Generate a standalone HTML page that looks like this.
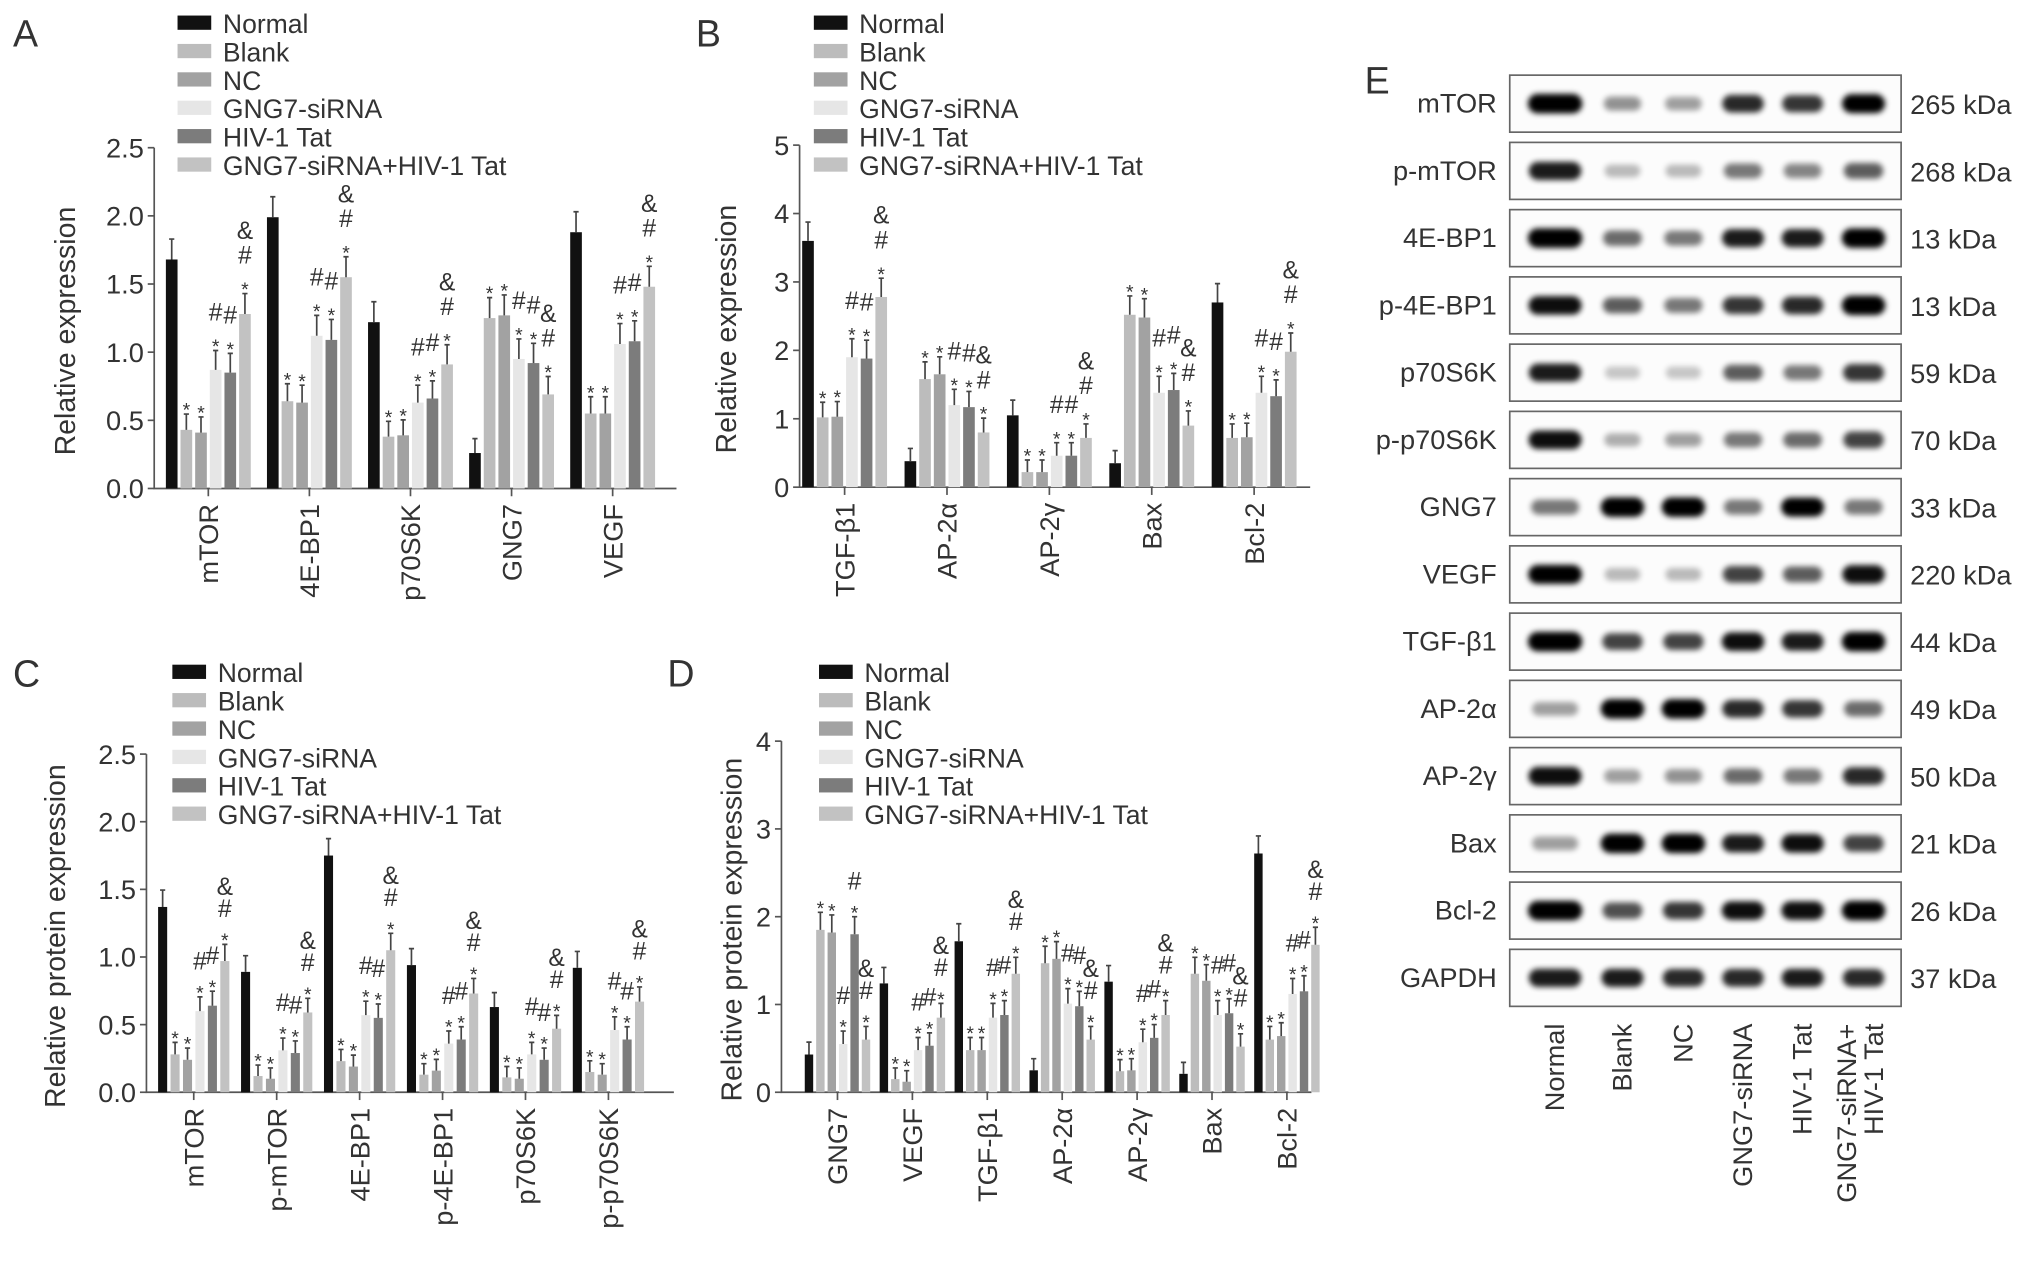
<!DOCTYPE html>
<html><head><meta charset="utf-8"><style>
html,body{margin:0;padding:0;background:#fff;}
svg{display:block;}
text{font-family:"Liberation Sans",Arial,sans-serif;fill:#333;}
</style></head><body>
<svg id="fig" width="2032" height="1262" viewBox="0 0 1568 974" preserveAspectRatio="none" xmlns="http://www.w3.org/2000/svg">
<defs><filter id="blur" x="-30%" y="-80%" width="160%" height="260%"><feGaussianBlur stdDeviation="2.2"/></filter></defs>
</svg>
<script>
const seriesNames = ["Normal","Blank","NC","GNG7-siRNA","HIV-1 Tat","GNG7-siRNA+HIV-1 Tat"];
const seriesColors = ["#111111","#bcbcbc","#a2a2a2","#e6e6e6","#7c7c7c","#c2c2c2"];

const catsA = ["mTOR","4E-BP1","p70S6K","GNG7","VEGF"];
const normalA = [1.68,1.99,1.22,0.26,1.88];
const blankA = [0.43,0.64,0.38,1.25,0.55];
const ncA = [0.41,0.63,0.39,1.27,0.55];
const sirnaA = [0.87,1.12,0.63,0.95,1.06];
const tatA = [0.85,1.09,0.66,0.92,1.08];
const comboA = [1.28,1.55,0.91,0.69,1.48];
const ticksA = ["0.0","0.5","1.0","1.5","2.0","2.5"];

const catsB = ["TGF-β1","AP-2α","AP-2γ","Bax","Bcl-2"];
const normalB = [3.6,0.38,1.05,0.35,2.7];
const blankB = [1.02,1.58,0.22,2.52,0.72];
const ncB = [1.03,1.65,0.22,2.48,0.73];
const sirnaB = [1.9,1.2,0.46,1.38,1.38];
const tatB = [1.88,1.17,0.46,1.42,1.33];
const comboB = [2.78,0.8,0.72,0.9,1.98];
const ticksB = ["0","1","2","3","4","5"];

const catsC = ["mTOR","p-mTOR","4E-BP1","p-4E-BP1","p70S6K","p-p70S6K"];
const normalC = [1.37,0.89,1.75,0.94,0.63,0.92];
const blankC = [0.28,0.12,0.23,0.13,0.11,0.15];
const ncC = [0.24,0.10,0.19,0.16,0.10,0.13];
const sirnaC = [0.60,0.31,0.57,0.36,0.28,0.46];
const tatC = [0.64,0.29,0.55,0.39,0.24,0.39];
const comboC = [0.97,0.59,1.05,0.73,0.47,0.67];
const ticksC = ["0.0","0.5","1.0","1.5","2.0","2.5"];

const catsD = ["GNG7","VEGF","TGF-β1","AP-2α","AP-2γ","Bax","Bcl-2"];
const normalD = [0.43,1.24,1.72,0.25,1.26,0.21,2.72];
const blankD = [1.85,0.15,0.48,1.47,0.24,1.35,0.60];
const ncD = [1.82,0.12,0.48,1.52,0.25,1.27,0.64];
const sirnaD = [0.55,0.48,0.85,1.01,0.57,0.88,1.12];
const tatD = [1.80,0.53,0.88,0.98,0.62,0.90,1.15];
const comboD = [0.60,0.85,1.35,0.60,0.88,0.52,1.68];
const ticksD = ["0","1","2","3","4"];

const blotRows = ["mTOR","p-mTOR","4E-BP1","p-4E-BP1","p70S6K","p-p70S6K","GNG7","VEGF","TGF-β1","AP-2α","AP-2γ","Bax","Bcl-2","GAPDH"];
const blotKda = ["265 kDa","268 kDa","13 kDa","13 kDa","59 kDa","70 kDa","33 kDa","220 kDa","44 kDa","49 kDa","50 kDa","21 kDa","26 kDa","37 kDa"];
const blotIntensity = [
 [1,.4,.35,.8,.75,.95],[.85,.25,.25,.5,.45,.6],[1,.55,.5,.85,.85,1],[.9,.6,.5,.75,.8,1],
 [.85,.2,.2,.6,.5,.75],[.9,.3,.35,.5,.55,.7],[.5,1,1,.5,.95,.5],[.95,.25,.25,.7,.6,.9],
 [1,.7,.7,.9,.85,1],[.35,1,1,.8,.75,.55],[.9,.35,.4,.55,.5,.8],[.35,1,1,.85,.9,.7],
 [1,.65,.75,.9,.9,1],[.85,.85,.8,.8,.85,.8]];
const laneLabels = [["Normal"],["Blank"],["NC"],["GNG7-siRNA"],["HIV-1 Tat"],["GNG7-siRNA+","HIV-1 Tat"]];

const NS="http://www.w3.org/2000/svg";
const svg=document.getElementById('fig');
function mk(tag,attrs,parent,txt){const e=document.createElementNS(NS,tag);for(const k in attrs)e.setAttribute(k,attrs[k]);if(txt!==undefined)e.textContent=txt;(parent||svg).appendChild(e);return e;}

function marksFor(s){ if(s===1||s===2) return ["*"]; if(s===3||s===4) return ["#","*"]; if(s===5) return ["&","#","*"]; return []; }

function panel(cfg){
  const g=mk('g',{});
  
  
  const series=cfg.series, n=cfg.cats.length;
  const y=v=>cfg.y0-(v/cfg.max)*(cfg.y0-cfg.yTop);
  const gx=i=>cfg.x0+cfg.off+i*cfg.gap;
  const L=mk('text',{x:cfg.letterX,y:cfg.letterY,'font-size':29,fill:'#222'},g,cfg.letter);
  
  
  seriesNames.forEach((nm,i)=>{
    const ly=cfg.legY+i*21.9;
    const r=mk('rect',{x:cfg.legX,y:ly-6,width:26,height:11,fill:seriesColors[i]},g);
    
    
    const t=mk('text',{x:cfg.legX+35,y:ly+7.5,'font-size':20.5},g,nm);
    
    
  });
  const ax=mk('path',{d:`M${cfg.x0},${cfg.yTop} V${cfg.y0} H${cfg.xEnd}`,stroke:'#555','stroke-width':1.3,fill:'none'},g);
  
  
  cfg.ticks.forEach((t,i)=>{
    const v=cfg.max*i/(cfg.ticks.length-1);
    mk('line',{x1:cfg.x0-5,x2:cfg.x0,y1:y(v),y2:y(v),stroke:'#555','stroke-width':1.3},g);
    const tl=mk('text',{x:cfg.x0-8,y:y(v)+7.5,'font-size':21,'text-anchor':'end'},g,t);
    
    
  });
  const yl=mk('text',{x:0,y:0,'font-size':22,'text-anchor':'middle',transform:`translate(${cfg.ylabX},${(cfg.y0+cfg.yTop)/2+10}) rotate(-90)`},g,cfg.ylabel);
  
  
  for(let i=0;i<n;i++){
    const tc=gx(i)+cfg.pitch*2.5+cfg.bw/2;
    mk('line',{x1:tc,x2:tc,y1:cfg.y0,y2:cfg.y0+6,stroke:'#555','stroke-width':1.3},g);
    const xl=mk('text',{x:0,y:0,'font-size':21,'text-anchor':'end',transform:`translate(${tc+7.5},${cfg.y0+12}) rotate(-90)`},g,cfg.cats[i]);
    
    
    for(let s=0;s<6;s++){
      const v=series[s][i], bx=gx(i)+s*cfg.pitch, top=y(v);
      const b=mk('rect',{x:bx,y:top,width:cfg.bw,height:cfg.y0-top,fill:seriesColors[s]},g);
      
      
      const err=(cfg.y0-cfg.yTop)*cfg.errFrac*(0.6+0.4*Math.min(1,v/cfg.max*2.5));
      const ex=bx+cfg.bw/2, ey=top-err;
      mk('path',{d:`M${ex},${top} V${ey} M${ex-2},${ey} H${ex+2}`,stroke:'#444','stroke-width':1.3,fill:'none'},g);
      const mks=marksFor(s);
      mks.forEach((m,k)=>{
        const ty=ey-4-(mks.length-1-k)*cfg.markGap;
        const mt=mk('text',{x:ex,y:ty+(m==='*'?6:0),'font-size':m==='*'?15:19,'text-anchor':'middle',fill:'#444'},g,m);
        
        
      });
    }
  }
}

panel({name:'panel-a',letter:'A',letterX:10,letterY:36,legX:137,legY:18,cats:catsA,series:[normalA,blankA,ncA,sirnaA,tatA,comboA],ticks:ticksA,max:2.5,
  x0:119,xEnd:522,y0:377,yTop:114,off:9,gap:78,pitch:11.3,bw:9,ylabel:'Relative expression',ylabX:58,errFrac:0.06,markGap:19});
panel({name:'panel-b',letter:'B',letterX:537,letterY:36,legX:628,legY:18,cats:catsB,series:[normalB,blankB,ncB,sirnaB,tatB,comboB],ticks:ticksB,max:5,
  x0:617,xEnd:1011,y0:376,yTop:112,off:2,gap:79,pitch:11.3,bw:9,ylabel:'Relative expression',ylabX:568,errFrac:0.055,markGap:19});
panel({name:'panel-c',letter:'C',letterX:10,letterY:530,legX:133,legY:519,cats:catsC,series:[normalC,blankC,ncC,sirnaC,tatC,comboC],ticks:ticksC,max:2.5,
  x0:113,xEnd:520,y0:843,yTop:582,off:9,gap:64,pitch:9.6,bw:7,ylabel:'Relative protein expression',ylabX:50,errFrac:0.05,markGap:17});
panel({name:'panel-d',letter:'D',letterX:515,letterY:530,legX:632,legY:519,cats:catsD,series:[normalD,blankD,ncD,sirnaD,tatD,comboD],ticks:ticksD,max:4,
  x0:603,xEnd:1012,y0:843,yTop:572,off:18,gap:57.8,pitch:8.8,bw:6.5,ylabel:'Relative protein expression',ylabX:572,errFrac:0.05,markGap:17});

const gE=mk('g',{});


const eL=mk('text',{x:1053,y:72,'font-size':29,fill:'#222'},gE,'E');


const laneX=[1200,1252,1299,1345,1391,1438];
blotRows.forEach((nm,r)=>{
  const cy=80+r*51.9;
  const box=mk('rect',{x:1165,y:cy-22,width:302,height:44,fill:'#fcfcfc',stroke:'#666','stroke-width':1.3},gE);
  
  
  laneX.forEach((lx,l)=>{
    const it=blotIntensity[r][l];
    const w=(l===0?40:32)*(0.8+0.25*it), h=8+7*it;
    const band=mk('rect',{x:lx-w/2,y:cy-h/2,width:w,height:h,rx:h/2,fill:'#000',opacity:Math.min(1,it*1.05),filter:'url(#blur)'},gE);
    
    
  });
  const t=mk('text',{x:1155,y:cy+7,'font-size':21,'text-anchor':'end'},gE,nm);
  
  
  const k=mk('text',{x:1474,y:cy+8,'font-size':21},gE,blotKda[r]);
  
  
});
laneLabels.forEach((lines,l)=>{
  lines.forEach((ln,j)=>{
    const off=lines.length===2?(j===0?-6:15):7;
    const t=mk('text',{x:0,y:0,'font-size':21,'text-anchor':'end',transform:`translate(${laneX[l]+off},${790}) rotate(-90)`},gE,ln);
    
    
  });
});
</script>
</body></html>
